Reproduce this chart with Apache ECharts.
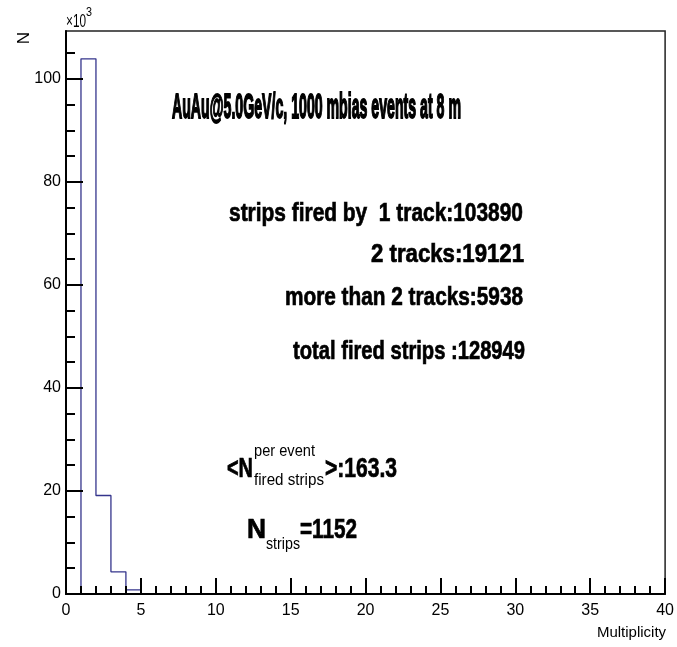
<!DOCTYPE html>
<html><head><meta charset="utf-8">
<script src="https://cdn.jsdelivr.net/npm/echarts@6/dist/echarts.min.js"></script>
<style>html,body{margin:0;padding:0;background:#fff}#c{width:677px;height:647px}</style>
</head><body><div id="c"></div>
<script>
// ---- data ----
const binLowEdges = [0, 1, 2, 3, 4, 5, 40];
const binCounts   = [0, 103890, 19121, 4300, 800, 0, 0];
const xMajorTicks = [0, 5, 10, 15, 20, 25, 30, 35, 40];
const yMajorTicks = [0, 20, 40, 60, 80, 100];          // in units of 10^3
const yMinorTicks = [5, 10, 15, 25, 30, 35, 45, 50, 55, 65, 70, 75, 85, 90, 95, 105];
const yMaxK = 109.3;
const xTitle = 'Multiplicity';
const yTitle = 'N';
const titleText = 'AuAu@5.0GeV/c, 1000 mbias events at 8 m';
const statLines = ['strips fired by  1 track:103890', '2 tracks:19121', 'more than 2 tracks:5938', 'total fired strips :128949'];

// ---- helpers ----
const FAM = "'Liberation Sans Narrow','Liberation Sans',Arial,sans-serif";
const mctx = document.createElement('canvas').getContext('2d');
function fit(text, left, right, cy, size, bold, strokeW, sy) {
  const font = (bold ? 'bold ' : '') + size + 'px ' + FAM;
  mctx.font = font;
  const w = mctx.measureText(text).width;
  const style = { text: text, font: font, fill: '#000', align: 'left', textAlign: 'left', verticalAlign: 'middle', textVerticalAlign: 'middle' };
  if (strokeW) { style.stroke = '#000'; style.lineWidth = strokeW; }
  return { type: 'text', x: left, y: cy, scaleX: (right - left) / w, scaleY: sy || 1, z: 20, style: style };
}

const chart = echarts.init(document.getElementById('c'), null, { renderer: 'canvas' });
const blk = { color: '#000', width: 2 };
const tickFont = 16;
const option = {
  animation: false,
  backgroundColor: '#fff',
  grid: { left: 66, right: 9, top: 31, bottom: 53, show: true, borderColor: '#222', borderWidth: 1.5, backgroundColor: 'transparent' },
  xAxis: {
    type: 'value', min: 0, max: 40, interval: 5, z: 5,
    name: xTitle, nameLocation: 'end', nameGap: 1,
    nameTextStyle: { align: 'right', verticalAlign: 'top', padding: [31, 0, 0, 0], fontSize: 15, fontFamily: FAM, color: '#000' },
    axisLine: { show: true, onZero: false, lineStyle: blk },
    axisTick: { show: true, inside: true, length: 16, lineStyle: blk, customValues: xMajorTicks },
    minorTick: { show: true, splitNumber: 5, length: 8, lineStyle: blk },
    axisLabel: { customValues: xMajorTicks, fontSize: tickFont, fontFamily: FAM, color: '#000', margin: 9 },
    splitLine: { show: false }, minorSplitLine: { show: false }
  },
  yAxis: [
    {
      type: 'value', min: 0, max: yMaxK * 1000, z: 5,
      axisLine: { show: true, onZero: false, lineStyle: blk },
      axisTick: { show: true, inside: true, length: 17, lineStyle: blk, customValues: yMajorTicks.map(v => v * 1000) },
      axisLabel: { customValues: yMajorTicks.map(v => v * 1000), formatter: v => String(Math.round(v / 1000)), fontSize: tickFont, fontFamily: FAM, color: '#000', margin: 5 },
      splitLine: { show: false }
    },
    {
      type: 'value', min: 0, max: yMaxK * 1000, position: 'left', z: 5,
      axisLine: { show: false },
      axisTick: { show: true, inside: true, length: 9, lineStyle: blk, customValues: yMinorTicks.map(v => v * 1000) },
      axisLabel: { show: false },
      splitLine: { show: false }
    }
  ],
  series: [{
    type: 'line', step: 'end', yAxisIndex: 0, symbol: 'none', z: 3,
    lineStyle: { color: '#34348c', width: 1.3 },
    data: binLowEdges.map((x, i) => [x, binCounts[i]])
  }],
  graphic: [
    fit(titleText, 172, 461, 108, 30, true, 1.6, 1.15),
    fit(statLines[0], 229, 523, 214, 26, true, 0.7),
    fit(statLines[1], 371, 524, 255, 26, true, 0.7),
    fit(statLines[2], 285, 523, 298, 26, true, 0.7),
    fit(statLines[3], 293, 525, 352, 26, true, 0.7),
    fit('<N', 227, 253, 470, 27, true, 0.7),
    fit('per event', 254, 315, 452, 16, false),
    fit('fired strips', 254, 324, 481, 16, false),
    fit('>:163.3', 325, 397, 470, 27, true, 0.7),
    fit('N', 247, 266, 531, 27, true, 0.7),
    fit('strips', 266, 300, 545, 16, false),
    fit('=1152', 300, 357, 531, 27, true, 0.7),
    fit('\u00d710', 66, 86, 22, 18, false),
    fit('3', 86, 92, 13, 12, false),
    { type: 'text', x: 24, y: 38, rotation: Math.PI / 2, z: 20,
      style: { text: yTitle, font: '17px ' + FAM, fill: '#000', align: 'center', textAlign: 'center', verticalAlign: 'middle', textVerticalAlign: 'middle' } }
  ]
};
chart.setOption(option);
</script>
</body></html>
